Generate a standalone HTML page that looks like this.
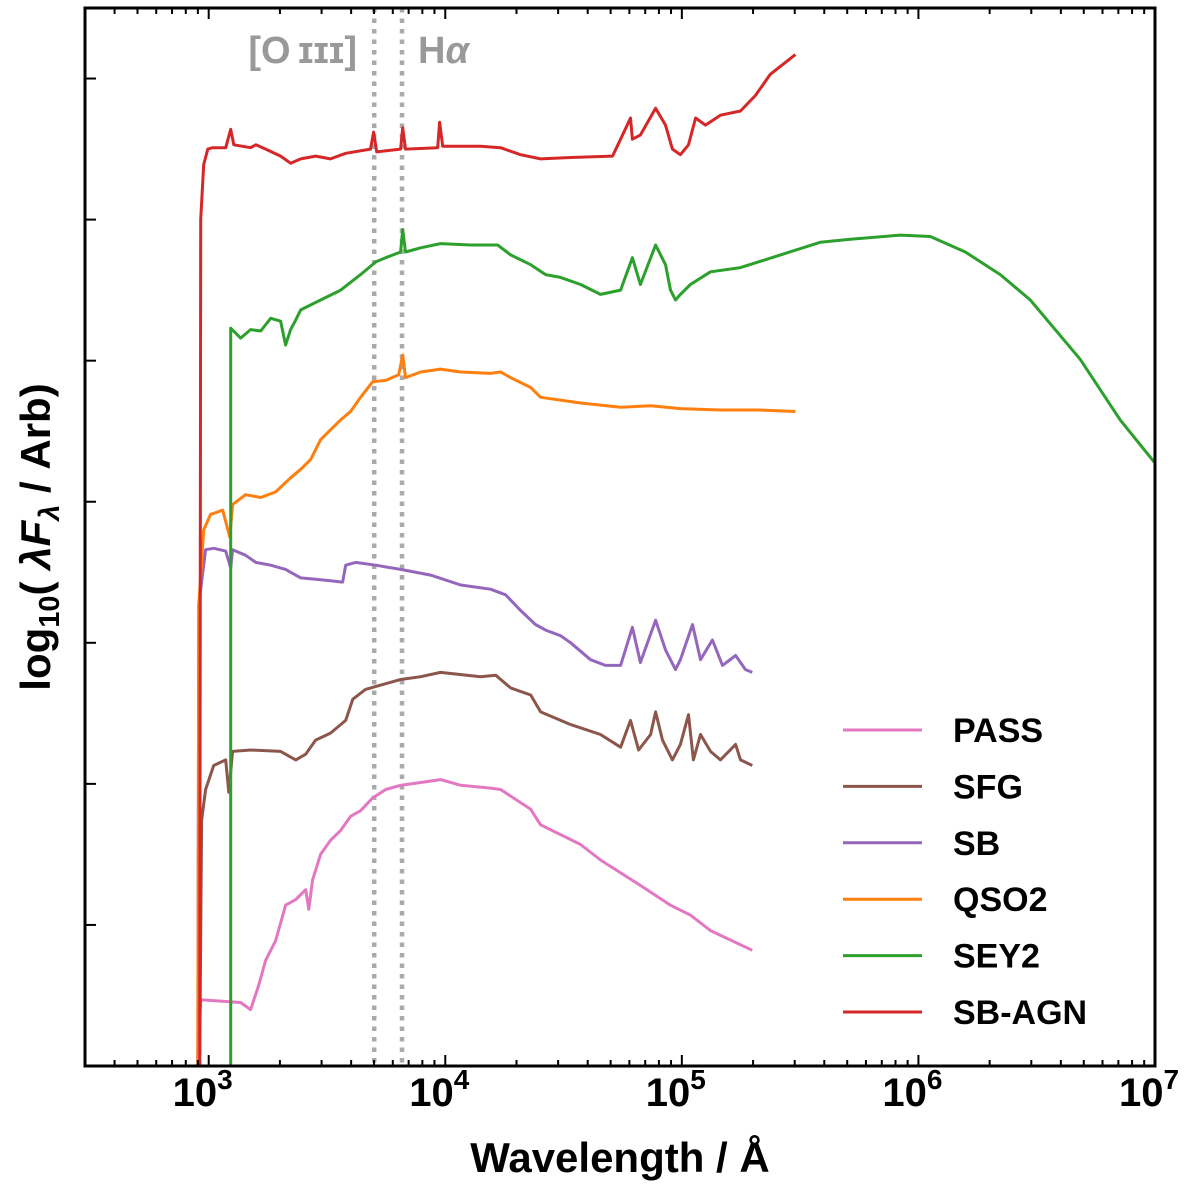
<!DOCTYPE html>
<html><head><meta charset="utf-8"><style>
html,body{margin:0;padding:0;background:#fff;}
svg{display:block;font-family:"Liberation Sans","DejaVu Sans",sans-serif;}
</style></head><body>
<svg id="chart" width="1200" height="1189" viewBox="0 0 1200 1189" xmlns="http://www.w3.org/2000/svg">
<g id="lines"></g>
<g id="series"></g>
<g id="axes"></g>
<g id="legend"></g>
</svg>
<script>
// log10 wavelength (Angstrom) and log10 flux (arbitrary units)
const passLam=[2.954,2.966,3.135,3.177,3.211,3.241,3.283,3.325,3.368,3.410,3.423,3.439,3.473,3.515,3.558,3.600,3.642,3.693,3.748,3.811,3.896,3.980,4.065,4.191,4.234,4.361,4.403,4.572,4.656,4.825,4.952,5.036,5.121,5.298];
const passVal=[0,0.47,0.45,0.40,0.57,0.75,0.89,1.14,1.18,1.25,1.11,1.32,1.50,1.60,1.67,1.77,1.81,1.90,1.96,1.99,2.01,2.03,1.99,1.97,1.96,1.82,1.71,1.57,1.46,1.28,1.14,1.07,0.96,0.82];
const sfgLam=[2.962,2.970,2.987,3.021,3.072,3.085,3.101,3.177,3.304,3.368,3.410,3.452,3.515,3.579,3.609,3.663,3.727,3.811,3.896,3.980,4.149,4.213,4.276,4.361,4.403,4.530,4.656,4.741,4.783,4.817,4.868,4.889,4.918,4.960,4.994,5.028,5.049,5.079,5.121,5.163,5.227,5.248,5.298];
const sfgVal=[0,1.74,1.96,2.13,2.17,1.94,2.23,2.24,2.23,2.17,2.21,2.31,2.36,2.45,2.60,2.67,2.70,2.74,2.76,2.79,2.76,2.77,2.68,2.63,2.51,2.42,2.35,2.26,2.45,2.24,2.35,2.51,2.31,2.17,2.28,2.49,2.17,2.35,2.23,2.17,2.28,2.17,2.13];
const sbLam=[2.954,2.958,2.987,3.021,3.072,3.093,3.101,3.156,3.199,3.262,3.325,3.389,3.452,3.515,3.566,3.579,3.621,3.706,3.811,3.938,4.065,4.191,4.255,4.318,4.381,4.424,4.487,4.530,4.614,4.677,4.741,4.791,4.825,4.889,4.931,4.973,4.994,5.045,5.079,5.129,5.172,5.227,5.269,5.298];
const sbVal=[0,3.27,3.66,3.67,3.65,3.53,3.66,3.62,3.57,3.55,3.52,3.46,3.45,3.44,3.43,3.55,3.57,3.55,3.52,3.48,3.41,3.38,3.34,3.23,3.13,3.09,3.05,3.00,2.88,2.84,2.84,3.11,2.86,3.16,2.95,2.81,2.88,3.13,2.88,3.02,2.84,2.91,2.81,2.79];
const qsoLam=[2.954,2.958,2.979,3.008,3.059,3.089,3.101,3.156,3.220,3.283,3.346,3.389,3.431,3.473,3.515,3.558,3.600,3.642,3.693,3.748,3.803,3.820,3.832,3.896,3.980,4.065,4.191,4.234,4.276,4.361,4.403,4.572,4.741,4.868,4.994,5.163,5.332,5.480];
const qsoVal=[0,3.27,3.80,3.91,3.94,3.75,3.98,4.05,4.03,4.07,4.17,4.23,4.30,4.44,4.51,4.58,4.64,4.74,4.85,4.86,4.90,5.04,4.88,4.92,4.94,4.92,4.91,4.92,4.88,4.81,4.74,4.70,4.67,4.68,4.66,4.65,4.65,4.64];
const seyLam=[3.093,3.093,3.135,3.177,3.220,3.262,3.304,3.325,3.346,3.368,3.389,3.473,3.558,3.642,3.706,3.748,3.811,3.820,3.832,3.896,3.980,4.107,4.221,4.276,4.361,4.424,4.487,4.572,4.656,4.741,4.791,4.825,4.889,4.931,4.952,4.973,4.994,5.036,5.121,5.248,5.417,5.586,5.712,5.924,6.050,6.198,6.346,6.473,6.684,6.853,6.997];
const seyVal=[0,5.23,5.16,5.22,5.21,5.30,5.28,5.11,5.22,5.29,5.36,5.43,5.50,5.61,5.70,5.73,5.77,5.93,5.77,5.80,5.83,5.82,5.82,5.75,5.68,5.61,5.59,5.54,5.47,5.50,5.73,5.54,5.82,5.68,5.50,5.43,5.47,5.54,5.63,5.66,5.75,5.84,5.86,5.89,5.88,5.77,5.61,5.43,5.01,4.58,4.28];
const agnLam=[2.962,2.966,2.979,2.996,3.017,3.072,3.093,3.106,3.177,3.199,3.241,3.304,3.346,3.389,3.452,3.515,3.579,3.684,3.697,3.710,3.811,3.820,3.832,3.968,3.976,3.989,4.149,4.234,4.318,4.403,4.530,4.707,4.741,4.783,4.791,4.825,4.889,4.931,4.960,4.994,5.028,5.058,5.100,5.163,5.248,5.311,5.374,5.480];
const agnVal=[0,6.00,6.39,6.50,6.51,6.51,6.64,6.53,6.51,6.53,6.50,6.45,6.40,6.43,6.45,6.43,6.47,6.50,6.62,6.48,6.50,6.65,6.50,6.51,6.69,6.52,6.52,6.51,6.46,6.43,6.44,6.45,6.57,6.72,6.57,6.60,6.79,6.67,6.50,6.46,6.53,6.72,6.67,6.74,6.77,6.88,7.03,7.17];
const seriesNames=["PASS","SFG","SB","QSO2","SEY2","SB-AGN"];
const seriesColors=["#e377c2","#8c564b","#9467bd","#ff7f0e","#2ca02c","#d62728"];
const xTickExps=[3,4,5,6,7];
const yTicks=[1,2,3,4,5,6,7];
const lineWaves=[5007,6563];

const L=85,R=1155,T=8,B=1066;
const xMin=Math.log10(300),xMax=7,yMin=0,yMax=7.5;
const xs=l=>L+(l-xMin)/(xMax-xMin)*(R-L);
const ys=v=>B-(v-yMin)/(yMax-yMin)*(B-T);
const NS="http://www.w3.org/2000/svg";
function mk(tag,attrs,parent){const e=document.createElementNS(NS,tag);for(const k in attrs)e.setAttribute(k,attrs[k]);parent.appendChild(e);return e;}

const gl=document.getElementById('lines');
lineWaves.forEach((w,i)=>{
  const x=xs(Math.log10(w));
  const ln=mk('line',{x1:x,x2:x,y1:T,y2:B,stroke:'#aaaaaa','stroke-width':4.5,'stroke-dasharray':'4.5 6'},gl);
  
  
});
const t1=mk('text',{x:357,y:63,'text-anchor':'end','font-size':38,'font-weight':'bold',fill:'#999999'},gl);
t1.textContent='[O\u2009\u026A\u026A\u026A]';


const t2=mk('text',{x:418,y:63,'font-size':38,'font-weight':'bold',fill:'#999999'},gl);
t2.innerHTML='H<tspan font-style="italic">α</tspan>';



const gs=document.getElementById('series');
const lams=[passLam,sfgLam,sbLam,qsoLam,seyLam,agnLam];
const vals=[passVal,sfgVal,sbVal,qsoVal,seyVal,agnVal];
lams.forEach((la,i)=>{
  const d=la.map((l,j)=>(j?'L':'M')+xs(l).toFixed(1)+' '+ys(vals[i][j]).toFixed(1)).join(' ');
  const p=mk('path',{d:d,fill:'none',stroke:seriesColors[i],'stroke-width':3,'stroke-linejoin':'round'},gs);
  
  
});

const ga=document.getElementById('axes');
const fr=mk('rect',{x:L,y:T,width:R-L,height:B-T,fill:'none',stroke:'#000','stroke-width':3},ga);


for(let e=2;e<=6;e++){for(let m=1;m<=9;m++){
  const l=e+Math.log10(m); if(l<xMin-1e-6||l>xMax+1e-6)continue;
  const x=xs(l),len=m===1?11:6;
  mk('line',{x1:x,x2:x,y1:B,y2:B-len,stroke:'#000','stroke-width':2},ga);
  mk('line',{x1:x,x2:x,y1:T,y2:T+len,stroke:'#000','stroke-width':2},ga);
}}
xTickExps.forEach(e=>{
  const tx=mk('text',{x:xs(e)-6,y:1106,'text-anchor':'middle','font-size':40,'font-weight':'bold'},ga);
  tx.innerHTML='10<tspan dy="-17" font-size="28">'+e+'</tspan>';
  
  
});
yTicks.forEach(v=>{mk('line',{x1:L,x2:L+11,y1:ys(v),y2:ys(v),stroke:'#000','stroke-width':2},ga);});
const xt=mk('text',{x:620,y:1172,'text-anchor':'middle','font-size':42,'font-weight':'bold'},ga);
xt.textContent='Wavelength / Å';


const yt=mk('text',{x:0,y:0,'text-anchor':'middle','font-size':42,'font-weight':'bold',transform:'translate(50,537) rotate(-90)'},ga);
yt.innerHTML='log<tspan dy="9" font-size="29">10</tspan><tspan dy="-9">( </tspan><tspan font-style="italic">λF</tspan><tspan dy="9" font-size="29" font-style="italic">λ</tspan><tspan dy="-9"> / Arb)</tspan>';



const gg=document.getElementById('legend');
seriesNames.forEach((n,i)=>{
  const y=730+i*56.4;
  const g=mk('g',{},gg);
  
  
  mk('line',{x1:843,x2:922,y1:y,y2:y,stroke:seriesColors[i],'stroke-width':3},g);
  const t=mk('text',{x:953,y:y+12,'font-size':34,'font-weight':'bold'},g);
  t.textContent=n;
});
</script>
</body></html>
